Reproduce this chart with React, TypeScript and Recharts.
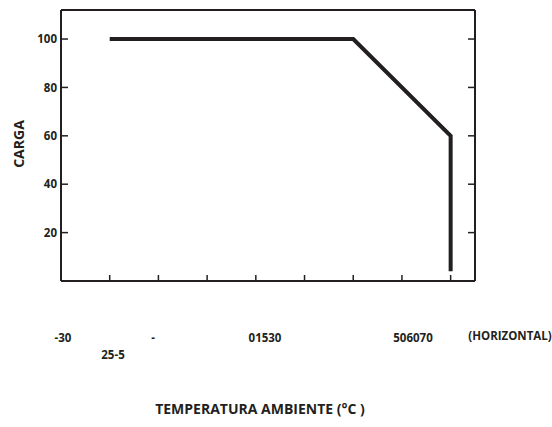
import { LineChart, Line, XAxis, YAxis } from 'recharts';

// tick positions along the temperature axis (one per mark on the bottom edge)
const tempTicks = [0, 1, 2, 3, 4, 5, 6, 7];
const loadTicks = [20, 40, 60, 80, 100];

// derating curve: position on the temperature axis vs. load (%)
const curveX = [0, 5, 7, 7];
const curveLoad = [100, 100, 60, 4];

// axis texts as they appear under the chart
const bottomLabels = [
  { text: '-30', x: 63, y: 337 },
  { text: '25-5', x: 113, y: 354 },
  { text: '-', x: 153, y: 337 },
  { text: '01530', x: 265, y: 337 },
  { text: '506070', x: 413, y: 337 },
  { text: '(HORIZONTAL)', x: 510, y: 335 },
];

const ink = '#231f20';
const font = '"Open Sans", "Noto Sans", sans-serif';
const TICK_IN = 7;
const LABEL_GAP = 4;

const data = curveX.map((x, i) => ({ x, load: curveLoad[i] }));

const noLabel = () => '';

// label outside, short tick mark pointing into the plot
function LeftTick(props: any) {
  const { x, y, payload } = props;
  const axisX = x + LABEL_GAP;
  return (
    <g>
      <line x1={axisX} x2={axisX + TICK_IN} y1={y} y2={y} stroke={ink} strokeWidth={1.5} />
      <text
        x={x}
        y={y}
        dy="0.355em"
        textAnchor="end"
        fill={ink}
        fontSize={11.5}
        fontWeight={700}
        fontFamily={font}
      >
        {payload.value}
      </text>
    </g>
  );
}

function RightTick(props: any) {
  const { x, y } = props;
  return <line x1={x - TICK_IN} x2={x} y1={y} y2={y} stroke={ink} strokeWidth={1.5} />;
}

export default function App() {
  return (
    <div style={{ position: 'absolute', left: 0, top: 0, width: 552, height: 427, background: '#fff', fontFamily: font }}>
      <LineChart
        width={552}
        height={427}
        data={data}
        margin={{ top: 9, right: 76, bottom: 145, left: 21 }}
        style={{ fontFamily: font }}
      >
        <XAxis
          xAxisId="bottom"
          dataKey="x"
          type="number"
          domain={[-1, 7.5]}
          ticks={tempTicks}
          height={1}
          tickFormatter={noLabel}
          tickLine={false}
          axisLine={{ stroke: ink, strokeWidth: 2 }}
        />
        {/* inward tick marks on the bottom edge */}
        <XAxis
          xAxisId="bottomTicks"
          dataKey="x"
          type="number"
          domain={[-1, 7.5]}
          ticks={tempTicks}
          mirror
          height={1}
          tickFormatter={noLabel}
          tickSize={6}
          axisLine={false}
          tickLine={{ stroke: ink, strokeWidth: 1.5 }}
        />
        <XAxis
          xAxisId="top"
          orientation="top"
          dataKey="x"
          type="number"
          domain={[-1, 7.5]}
          height={1}
          tickFormatter={noLabel}
          tickLine={false}
          axisLine={{ stroke: ink, strokeWidth: 2 }}
        />
        <YAxis
          yAxisId="left"
          dataKey="load"
          type="number"
          domain={[0, 112]}
          ticks={loadTicks}
          width={40}
          tickLine={false}
          tickSize={LABEL_GAP}
          tickMargin={0}
          tick={LeftTick}
          axisLine={{ stroke: ink, strokeWidth: 2 }}
        />
        <YAxis
          yAxisId="right"
          orientation="right"
          dataKey="load"
          type="number"
          domain={[0, 112]}
          ticks={loadTicks}
          width={1}
          tickLine={false}
          tickSize={0}
          tickMargin={0}
          tick={RightTick}
          axisLine={{ stroke: ink, strokeWidth: 2 }}
        />
        <Line
          xAxisId="bottom"
          yAxisId="left"
          type="linear"
          dataKey="load"
          stroke={ink}
          strokeWidth={4}
          strokeLinejoin="miter"
          dot={false}
          activeDot={false}
          isAnimationActive={false}
        />
      </LineChart>

      <div
        style={{
          position: 'absolute',
          left: 18,
          top: 144,
          transform: 'translate(-50%, -50%) rotate(-90deg)',
          fontSize: 14,
          fontWeight: 700,
          color: ink,
          whiteSpace: 'nowrap',
        }}
      >
        CARGA
      </div>

      {bottomLabels.map((l) => (
        <div
          key={l.text}
          style={{
            position: 'absolute',
            left: l.x,
            top: l.y,
            transform: 'translate(-50%, -50%)',
            fontSize: 11.5,
            fontWeight: 700,
            color: ink,
            whiteSpace: 'nowrap',
          }}
        >
          {l.text}
        </div>
      ))}

      <div
        style={{
          position: 'absolute',
          left: 260,
          top: 408,
          transform: 'translate(-50%, -50%)',
          fontSize: 14,
          fontWeight: 700,
          color: ink,
          whiteSpace: 'nowrap',
        }}
      >
        TEMPERATURA AMBIENTE (°C )
      </div>
    </div>
  );
}
